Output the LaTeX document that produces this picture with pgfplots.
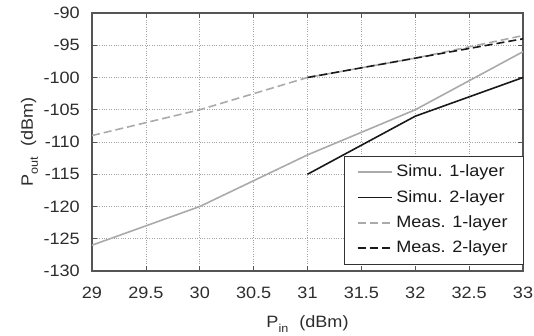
\documentclass[border=0pt]{standalone}
\usepackage{pgfplots}
\pgfplotsset{compat=1.18}
\usepackage{fontspec}
\setmainfont{Liberation Sans}[FakeStretch=1.1]
\definecolor{lgray}{RGB}{170,170,170}
\definecolor{dblack}{RGB}{25,25,25}
\definecolor{frame}{RGB}{85,85,85}
\definecolor{txt}{RGB}{45,45,45}
\newcommand{\fs}{\fontsize{16.5}{19}\selectfont}
\newcommand{\sub}[1]{\raisebox{-5bp}{\fontsize{11.5}{12}\selectfont #1}}
\begin{document}
\fs
\begin{tikzpicture}
\begin{axis}[
  name=ax,
  scale only axis,
  width=431bp, height=258bp,
  xmin=29, xmax=33, ymin=-130, ymax=-90,
  xtick={29,29.5,...,33},
  ytick={-130,-125,...,-90},
  xticklabels={29,29.5,30,30.5,31,31.5,32,32.5,33},
  /pgf/number format/assume math mode=true,
  tick align=inside,
  major tick length=5bp,
  tick style={frame, line width=0.6pt},
  axis line style={frame, line width=1.6pt},
  grid=major,
  grid style={gray!70, dotted, line width=0.6pt},
  xlabel={P\sub{in}\hspace{6bp} (dBm)},
  ylabel={P\sub{out}\hspace{6bp} (dBm)},
  ticklabel style={font=\fs, text=txt, inner sep=0pt},
  yticklabel style={anchor=east, xshift=-12bp},
  xticklabel style={anchor=base, yshift=-27bp},
  label style={font=\fs, text=txt},
  xlabel style={at={(rel axis cs:0.5,0)}, anchor=base, yshift=-56bp, inner sep=0pt},
  ylabel style={at={(axis description cs:-0.137,0.5)}, anchor=base, inner sep=0pt},
  legend cell align=left,
  legend image code/.code={\draw[#1] (5bp,0bp) -- (39bp,0bp);},
  legend style={at={(1.002,0.025)}, anchor=south east, draw=black!80, line width=0.6pt,
    font=\fs, text=black!90, row sep=7bp, inner xsep=12bp, inner ysep=7bp,
    nodes={inner xsep=4bp}},
]
\addplot[lgray, line width=1.6pt] coordinates {(29,-126) (30,-120) (31,-112) (32,-105) (33,-96)};
\addlegendentry{Simu. 1-layer}
\addplot[dblack, line width=1.6pt] coordinates {(31,-115) (32,-106) (33,-100)};
\addlegendentry{Simu. 2-layer}
\addplot[lgray, line width=1.6pt, dash pattern=on 8bp off 4bp] coordinates {(29,-109) (30,-105) (31,-100) (32,-97) (33,-93.5)};
\addlegendentry{Meas. 1-layer}
\addplot[dblack, line width=1.6pt, dash pattern=on 8bp off 4bp] coordinates {(31,-100) (32,-97) (33,-94)};
\addlegendentry{Meas. 2-layer}
\end{axis}
\pgfresetboundingbox
\path[use as bounding box] (ax.south west) ++(-92bp,-64bp) rectangle ([xshift=11bp,yshift=13bp]ax.north east);
\end{tikzpicture}
\end{document}
